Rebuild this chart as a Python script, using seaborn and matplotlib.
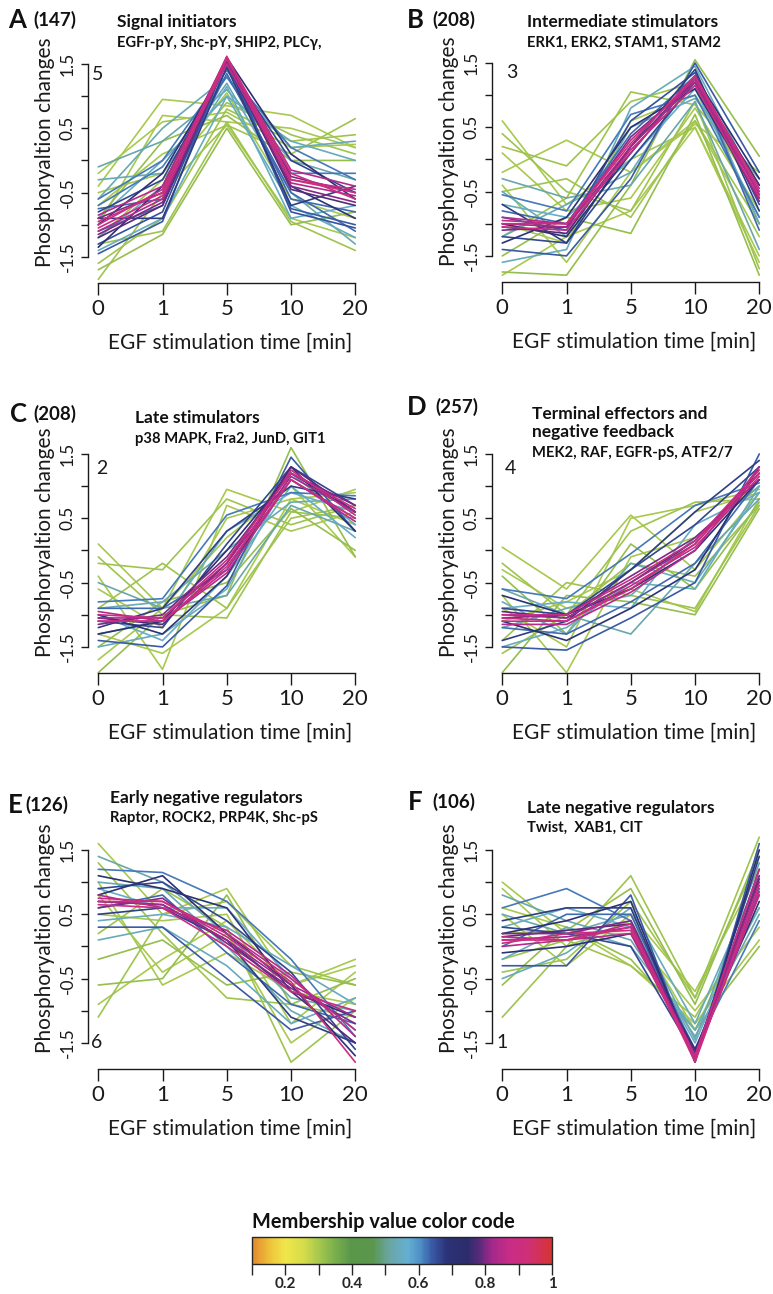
import numpy as np
import pandas as pd
import matplotlib
matplotlib.use("Agg")
import matplotlib.pyplot as plt
import seaborn as sns
from matplotlib.colors import LinearSegmentedColormap, Normalize
from matplotlib.cm import ScalarMappable

sns.set_theme(style="ticks")
plt.rcParams['font.family'] = ['Lato', 'DejaVu Sans']

# ---- data ----
times = ["0", "1", "5", "10", "20"]
yticks = [-1.5, -1, -0.5, 0, 0.5, 1, 1.5]
ytick_labels = ["-1.5", "", "-0.5", "", "0.5", "", "1.5"]
cbar_ticks = [0.1, 0.2, 0.3, 0.4, 0.5, 0.6, 0.7, 0.8, 0.9, 1.0]
cbar_labels = ["", "0.2", "", "0.4", "", "0.6", "", "0.8", "", "1"]

letters = ["A", "B", "C", "D", "E", "F"]
counts = ["(147)", "(208)", "(208)", "(257)", "(126)", "(106)"]
titles = ["Signal initiators", "Intermediate stimulators", "Late stimulators",
          "Terminal effectors and\nnegative feedback", "Early negative regulators",
          "Late negative regulators"]
subtitles = ["EGFr-pY, Shc-pY, SHIP2, PLC\u03b3,", "ERK1, ERK2, STAM1, STAM2",
             "p38 MAPK, Fra2, JunD, GIT1", "MEK2, RAF, EGFR-pS, ATF2/7",
             "Raptor, ROCK2, PRP4K, Shc-pS", "Twist,  XAB1, CIT"]
cluster_ids = ["5", "3", "2", "4", "6", "1"]

# cluster 5 (A)
a_member = [0.3, 0.31, 0.32, 0.3, 0.31, 0.32, 0.3, 0.31, 0.3, 0.31, 0.3,
            0.52, 0.54, 0.53, 0.55, 0.53, 0.54,
            0.62, 0.64, 0.66, 0.63, 0.62, 0.65, 0.63, 0.69, 0.7, 0.67,
            0.8, 0.84, 0.87, 0.89, 0.9, 0.78, 0.85, 0.8]
a_profiles = [
    [-0.4, 0.95, 0.85, 0.7, 0.2], [-1.85, -0.5, 0.55, 0.1, 0.65],
    [-1.7, -1.15, 0.5, -1.0, -0.8], [-0.2, 0.6, 0.75, 0.2, 0.25],
    [-1.3, -1.1, 0.6, -0.95, -1.4], [-0.9, 0.3, 0.7, 0.0, 0.0],
    [-0.5, -0.2, 1.05, -0.6, -0.9], [-1.6, -0.9, 0.8, 0.3, 0.4],
    [-1.0, 0.7, 0.6, 0.5, 0.2], [-1.2, -0.3, 0.9, 0.4, 0.1],
    [-0.7, 0.1, 0.55, -0.9, -1.2],
    [-0.1, 0.3, 1.1, 0.0, -0.3], [-1.4, -0.9, 1.0, -0.7, -1.2],
    [-0.6, 0.5, 1.3, 0.2, 0.3], [-1.2, -0.4, 1.15, -0.9, -0.7],
    [-0.3, -0.2, 1.2, -0.5, -1.3], [-0.9, 0.0, 1.0, 0.3, 0.0],
    [-0.6, 0.0, 1.4, 0.2, -0.3], [-1.45, -0.95, 1.6, -0.75, -1.0],
    [-0.8, -0.3, 1.5, 0.0, -0.5], [-1.1, -0.7, 1.45, -0.6, -0.8],
    [-0.7, -0.1, 1.3, -0.2, -0.2], [-1.3, -0.8, 1.55, -0.8, -1.05],
    [-0.75, -0.6, 1.35, -0.5, -1.1], [-1.0, -0.2, 1.5, -0.4, -0.9],
    [-1.35, -0.4, 1.6, 0.1, -0.6], [-0.9, -0.9, 1.45, -0.7, -0.4],
    [-0.9, -0.5, 1.55, -0.25, -0.5], [-1.1, -0.6, 1.6, -0.35, -0.55],
    [-1.0, -0.45, 1.5, -0.3, -0.45], [-1.05, -0.55, 1.58, -0.2, -0.6],
    [-0.95, -0.5, 1.62, -0.3, -0.5], [-1.2, -0.7, 1.55, -0.45, -0.7],
    [-0.85, -0.4, 1.6, -0.15, -0.4], [-1.15, -0.65, 1.55, -0.4, -0.65],
]

# cluster 3 (B)
b_member = [0.3, 0.31, 0.32, 0.3, 0.31, 0.32, 0.3, 0.31, 0.3, 0.3, 0.31, 0.3,
            0.52, 0.54, 0.55, 0.53, 0.54,
            0.62, 0.64, 0.63, 0.66, 0.65, 0.67, 0.69, 0.7,
            0.82, 0.86, 0.88, 0.9, 0.8, 0.85, 0.78]
b_profiles = [
    [0.6, -0.7, 0.0, 0.5, -1.5], [0.4, -0.5, -0.8, 0.9, -1.7],
    [-1.75, -1.8, -0.4, 1.55, 0.05], [-0.2, 0.3, -0.2, 0.6, -1.2],
    [-1.2, -0.6, 1.05, 0.85, -0.3], [-1.5, -0.9, -1.15, 0.7, -1.8],
    [0.1, -0.8, -0.6, 0.8, -0.8], [-0.5, -0.3, -0.9, 0.6, -1.0],
    [-1.0, -1.3, 0.6, 1.0, -0.6], [-1.8, -1.2, -0.8, 0.5, -1.6],
    [0.2, -0.1, 0.9, 1.2, -1.0], [-0.4, -1.6, -0.2, 0.55, -0.2],
    [-0.3, -0.6, -0.4, 0.9, -1.4], [-1.6, -1.4, 0.8, 1.45, -0.5],
    [-0.7, -0.9, 0.0, 1.1, -0.9], [-1.2, -0.7, -0.2, 1.3, -1.0],
    [-0.5, -1.2, 0.5, 0.95, -0.3],
    [-0.55, -0.8, 0.7, 1.0, -0.9], [-1.4, -1.5, -0.3, 1.5, -0.2],
    [-0.8, -1.0, 0.4, 1.3, -1.1], [-1.2, -1.3, 0.0, 1.2, -0.4],
    [-0.9, -1.1, 0.6, 1.35, -0.7], [-0.7, -1.3, 0.2, 1.4, -0.8],
    [-1.3, -0.9, 0.5, 1.1, -0.6], [-1.0, -1.2, 0.1, 1.3, -0.3],
    [-1.0, -1.05, 0.2, 1.2, -0.55], [-0.95, -1.0, 0.3, 1.25, -0.5],
    [-1.05, -1.1, 0.15, 1.15, -0.6], [-1.0, -1.0, 0.25, 1.3, -0.45],
    [-1.1, -1.05, 0.35, 1.2, -0.65], [-0.9, -1.0, 0.1, 1.3, -0.55],
    [-1.05, -1.15, 0.2, 1.25, -0.4],
]

# cluster 2 (C)
c_member = [0.3, 0.31, 0.32, 0.3, 0.31, 0.32, 0.3, 0.3, 0.31, 0.3,
            0.52, 0.54, 0.55, 0.53, 0.54,
            0.62, 0.64, 0.66, 0.63, 0.67, 0.69, 0.7,
            0.82, 0.86, 0.88, 0.9, 0.8, 0.85, 0.78]
c_profiles = [
    [0.1, -0.9, 0.95, 0.6, 0.95], [-0.1, -1.0, -1.05, 0.6, 0.5],
    [-1.9, -1.0, -0.7, 1.6, -0.1], [-0.4, -1.85, 0.7, 0.3, 0.6],
    [-0.9, -0.2, -0.9, 0.5, 0.7], [-1.5, -0.8, -0.5, 0.65, 0.0],
    [-0.6, -1.2, 0.5, 0.8, 0.9], [-1.3, -1.6, -0.9, 0.8, 0.4],
    [-0.2, -0.3, 0.8, 0.4, 0.7], [-1.7, -0.9, 0.2, 1.0, -0.1],
    [-0.5, -0.9, -0.7, 0.7, 0.3], [-1.3, -1.1, 0.3, 0.9, 0.6],
    [-1.0, -1.4, -0.4, 1.0, 0.2], [-0.9, -0.8, 0.0, 0.75, 0.8],
    [-1.5, -1.3, -0.6, 1.2, 0.4],
    [-0.8, -0.75, 0.55, 0.9, 0.85], [-1.4, -1.5, -0.55, 1.45, 0.3],
    [-1.1, -1.2, 0.1, 1.3, 0.7], [-0.9, -0.9, -0.3, 1.1, 0.5],
    [-1.2, -0.9, 0.3, 1.0, 0.8], [-1.0, -1.3, -0.4, 1.3, 0.3],
    [-1.3, -1.1, 0.0, 1.2, 0.6],
    [-1.05, -1.05, -0.2, 1.15, 0.6], [-1.1, -1.1, -0.3, 1.25, 0.55],
    [-1.0, -1.05, -0.15, 1.2, 0.65], [-1.1, -1.1, -0.25, 1.1, 0.5],
    [-1.15, -1.0, -0.1, 1.2, 0.7], [-0.95, -1.1, -0.35, 1.1, 0.45],
    [-1.05, -1.15, -0.2, 1.3, 0.6],
]

# cluster 4 (D)
d_member = [0.3, 0.31, 0.32, 0.3, 0.31, 0.32, 0.3, 0.3, 0.31, 0.3,
            0.52, 0.54, 0.55, 0.53, 0.54,
            0.62, 0.64, 0.66, 0.63, 0.67, 0.69, 0.7,
            0.82, 0.86, 0.88, 0.9, 0.8, 0.85, 0.78]
d_profiles = [
    [0.05, -0.6, 0.55, -0.3, 0.9], [-0.2, -1.0, 0.3, 0.75, 0.8],
    [-1.9, -0.7, -0.8, -1.0, 0.65], [-0.7, -1.9, -0.1, 0.2, 1.0],
    [-1.4, -0.5, -0.7, -0.9, 0.7], [-0.4, -1.3, 0.1, -0.6, 0.75],
    [-1.1, -0.8, -0.3, 0.6, 0.9], [-0.9, -1.5, 0.5, 0.7, 0.95],
    [-1.6, -1.0, -0.2, -0.4, 0.7], [-0.3, -0.9, -0.6, -0.95, 0.8],
    [-0.6, -1.0, -1.3, -0.2, 0.8], [-1.5, -1.2, -0.5, -0.6, 1.0],
    [-0.9, -0.8, -0.9, 0.4, 0.9], [-1.2, -0.9, -0.7, 0.2, 1.0],
    [-0.8, -1.3, -0.2, -0.5, 0.9],
    [-0.6, -0.75, -0.05, 0.7, 1.05], [-1.5, -1.55, -1.05, -0.5, 1.5],
    [-0.9, -1.0, -0.3, 0.4, 1.3], [-1.2, -1.3, -0.8, -0.2, 1.1],
    [-1.4, -1.1, -0.3, 0.6, 1.4], [-0.7, -1.0, -0.6, 0.0, 1.1],
    [-1.1, -1.4, -0.9, -0.3, 1.3],
    [-1.0, -1.05, -0.5, 0.1, 1.2], [-1.05, -1.1, -0.55, 0.05, 1.15],
    [-1.0, -1.0, -0.45, 0.15, 1.25], [-1.1, -1.1, -0.6, 0.1, 1.2],
    [-1.05, -1.0, -0.4, 0.2, 1.1], [-1.15, -1.15, -0.65, 0.0, 1.3],
    [-0.95, -1.05, -0.5, 0.15, 1.2],
]

# cluster 6 (E)
e_member = [0.3, 0.31, 0.32, 0.3, 0.31, 0.32, 0.3, 0.3, 0.31, 0.3,
            0.52, 0.54, 0.55, 0.53, 0.54,
            0.62, 0.64, 0.66, 0.63, 0.67, 0.69, 0.7,
            0.82, 0.86, 0.88, 0.9, 0.8, 0.85, 0.78]
e_profiles = [
    [1.6, 0.5, 0.9, -0.6, -0.2], [-1.1, 0.5, 0.7, -0.3, -0.6],
    [-0.6, -0.5, 0.8, -0.9, -0.5], [1.0, -0.6, -0.1, -0.7, -0.9],
    [0.2, 0.9, 0.3, -1.8, -1.0], [-0.2, 0.1, -0.6, -0.4, -0.6],
    [0.5, 0.4, 0.5, -1.2, -0.4], [0.8, -0.4, 0.2, -1.5, -0.8],
    [1.3, 0.2, -0.8, -0.9, -1.1], [-0.9, -0.2, 0.4, -0.6, -0.3],
    [1.4, 1.0, 0.2, -0.8, -1.0], [0.1, 0.3, -0.3, -1.2, -0.8],
    [0.9, 0.6, 0.6, -0.5, -1.3], [1.0, 0.9, 0.0, -1.0, -1.5],
    [0.4, 0.5, 0.3, -0.3, -0.9],
    [1.2, 1.15, 0.7, -0.2, -1.4], [0.3, 0.3, -0.5, -1.3, -1.0],
    [0.9, 1.0, 0.4, -0.4, -1.6], [0.6, 0.8, -0.1, -0.9, -1.2],
    [0.5, 0.6, 0.1, -1.1, -1.5], [1.1, 0.9, 0.6, -0.7, -1.1],
    [0.8, 1.1, 0.2, -0.6, -1.7],
    [0.7, 0.65, 0.1, -0.6, -1.1], [0.75, 0.7, 0.2, -0.5, -1.3],
    [0.65, 0.6, 0.0, -0.7, -1.0], [0.7, 0.7, 0.15, -0.55, -1.8],
    [0.6, 0.75, 0.05, -0.65, -1.2], [0.8, 0.6, 0.25, -0.45, -1.4],
    [0.7, 0.65, 0.1, -0.7, -1.5],
]

# cluster 1 (F)
f_member = [0.3, 0.31, 0.32, 0.3, 0.31, 0.32, 0.3, 0.31, 0.3,
            0.52, 0.54, 0.55, 0.53, 0.54,
            0.62, 0.64, 0.66, 0.63, 0.67, 0.69, 0.7,
            0.82, 0.86, 0.88, 0.9, 0.8, 0.85, 0.78]
f_profiles = [
    [1.0, 0.2, 0.2, -1.0, 0.3], [-1.1, 0.0, 1.1, -0.8, 1.7],
    [-0.6, 0.3, -0.2, -1.3, 0.0], [0.5, -0.3, 0.5, -0.7, 1.2],
    [-0.2, 0.1, -0.3, -1.1, 0.6], [0.2, 0.25, 0.9, -0.9, 1.5],
    [0.6, 0.3, -0.3, -1.2, 0.1], [-0.4, -0.2, 0.7, -0.8, 1.4],
    [0.9, 0.0, 0.4, -1.3, 0.8],
    [0.8, 0.4, 0.1, -1.4, 0.5], [-0.5, -0.1, 0.6, -1.2, 1.1],
    [0.3, 0.6, 0.3, -1.5, 0.8], [0.5, 0.2, 0.5, -1.45, 1.3],
    [-0.2, 0.3, 0.0, -1.3, 0.6],
    [0.6, 0.9, 0.4, -1.6, 0.4], [-0.3, -0.3, 0.8, -1.8, 1.6],
    [0.3, 0.2, 0.0, -1.7, 1.2], [0.0, 0.5, 0.5, -1.65, 0.9],
    [0.4, 0.6, 0.6, -1.75, 1.4], [-0.1, 0.0, 0.2, -1.6, 0.7],
    [0.2, 0.4, 0.7, -1.8, 1.5],
    [0.1, 0.15, 0.3, -1.7, 1.0], [0.15, 0.1, 0.35, -1.75, 0.8],
    [0.05, 0.2, 0.25, -1.7, 1.2], [0.1, 0.1, 0.3, -1.8, 0.95],
    [0.2, 0.2, 0.4, -1.7, 1.1], [0.0, 0.1, 0.2, -1.75, 0.85],
    [0.15, 0.25, 0.35, -1.65, 1.05],
]

members = [a_member, b_member, c_member, d_member, e_member, f_member]
profiles = [a_profiles, b_profiles, c_profiles, d_profiles, e_profiles, f_profiles]

# ---- membership colour code ----
cmap = LinearSegmentedColormap.from_list("membership", [
    (0.00, "#e38a2c"), (0.06, "#eec43c"), (0.11, "#f0e64a"), (0.17, "#d6dc4a"),
    (0.22, "#a8c94e"), (0.28, "#76ad4c"), (0.33, "#5a974b"), (0.40, "#5a964c"),
    (0.46, "#6aa6a6"), (0.52, "#64afd2"), (0.56, "#4f8fc6"), (0.60, "#3a5aa6"),
    (0.65, "#2b3276"), (0.72, "#2c2c6c"), (0.76, "#5a2a7c"), (0.80, "#a2288a"),
    (0.86, "#c82c86"), (0.92, "#cf2f78"), (1.00, "#d63434")])
norm = Normalize(0.1, 1.0)

W, H = 773, 1294
fig = plt.figure(figsize=(W / 100, H / 100), dpi=100)


def fx(x):
    return x / W


def fy(y):
    return 1 - y / H


UX, UY = 64.25, 64.3
XLIM = (-0.16, 4.16)
YLIM = (-1.906, 1.75)
INK = "#1a1a1a"

# y-axis x position, y pixel of the 1.5 tick
anchors = [(88, 64), (492, 63), (88, 454), (492, 454), (88, 850), (492, 850)]
num_pos = [(98, 74), (512, 73), (102, 469), (510, 468), (97, 1043), (502, 1043)]
# letter x, letter baseline, count x, count baseline, title x, title baseline, sub baseline
hdr = [
    (8, 28, 33, 25.5, 117, 27, 46.5),
    (407, 28, 432, 25.5, 527, 27, 46.5),
    (10, 422, 33, 420, 135, 423, 443),
    (407, 415, 435, 413, 532, 437, 457),
    (8, 813, 25, 811, 110, 803, 822),
    (408, 810, 432, 808, 527, 813, 832),
]

for i in range(6):
    X0, Y15 = anchors[i]
    top = Y15 - (YLIM[1] - 1.5) * UY
    w = (XLIM[1] - XLIM[0]) * UX
    h = (YLIM[1] - YLIM[0]) * UY
    ax = fig.add_axes([fx(X0), fy(top + h), w / W, h / H])

    rows = []
    for k, (m, prof) in enumerate(zip(members[i], profiles[i])):
        for j, v in enumerate(prof):
            rows.append({"id": k, "pos": j, "value": v, "member": m})
    df = pd.DataFrame(rows)

    sns.lineplot(data=df, x="pos", y="value", hue="member", units="id",
                 estimator=None, palette=cmap, hue_norm=norm, legend=False,
                 sort=False, lw=1.2, ax=ax)

    ax.set_xlim(*XLIM)
    ax.set_ylim(*YLIM)
    ax.set_xlabel("")
    ax.set_ylabel("")
    ax.set_facecolor("none")
    for s in ["top", "right"]:
        ax.spines[s].set_visible(False)
    ax.spines["left"].set_bounds(-1.5, 1.5)
    ax.spines["bottom"].set_bounds(0, 4)
    for s in ["left", "bottom"]:
        ax.spines[s].set_linewidth(1.0)
        ax.spines[s].set_color(INK)
    ax.set_xticks(range(len(times)), times)
    ax.set_yticks(yticks, ytick_labels)
    ax.tick_params(axis="x", length=8.5, width=1.0, pad=3, labelsize=16,
                   color=INK, labelcolor=INK)
    ax.tick_params(axis="y", length=5, width=1.0, pad=4, labelsize=12.5,
                   labelrotation=90, color=INK, labelcolor=INK)
    for lab in ax.get_yticklabels():
        lab.set_va("center")

    # axis labels
    fig.text(fx(X0 + 0.16 * UX + 2 * UX + 3), fy(Y15 + 279),
             "EGF stimulation time [min]", ha="center", va="center",
             fontsize=15, color=INK)
    fig.text(fx(X0 - 43), fy(Y15 + 88), "Phosphoryaltion changes", rotation=90,
             ha="center", va="center", fontsize=15, color=INK)

    # cluster number
    nx, ny = num_pos[i]
    fig.text(fx(nx), fy(ny), cluster_ids[i], ha="center", va="center",
             fontsize=14, color=INK)

    # headers
    lx, lb, cx, cb_, tx, tb, sb = hdr[i]
    fig.text(fx(lx), fy(lb), letters[i], ha="left", va="baseline",
             fontsize=18.5, fontweight="bold", color="#111111")
    fig.text(fx(cx), fy(cb_), counts[i], ha="left", va="baseline",
             fontsize=13.5, fontweight="bold", color="#111111")
    fig.text(fx(tx), fy(tb), titles[i], ha="left", va="baseline",
             fontsize=12.5, fontweight="bold", color="#111111", linespacing=1.15)
    fig.text(fx(tx), fy(sb), subtitles[i], ha="left", va="baseline",
             fontsize=10.6, fontweight="bold", color="#111111")

# colour bar
cax = fig.add_axes([fx(252), fy(1264), 300 / W, 27 / H])
cbar = fig.colorbar(ScalarMappable(norm=norm, cmap=cmap), cax=cax,
                    orientation="horizontal", ticks=cbar_ticks)
cbar.set_ticklabels(cbar_labels)
cbar.outline.set_linewidth(1.0)
cax.tick_params(length=8, width=1.0, pad=1.5, labelsize=11)
for lab in cax.get_xticklabels():
    lab.set_fontweight("bold")
fig.text(fx(252), fy(1228), "Membership value color code", ha="left",
         va="baseline", fontsize=14.4, fontweight="bold", color="#111111")

fig.savefig("out.png", dpi=100)
